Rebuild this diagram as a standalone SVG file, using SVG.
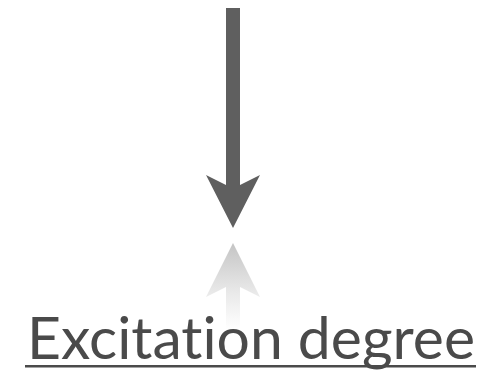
<svg xmlns="http://www.w3.org/2000/svg" width="485" height="378" viewBox="0 0 485 378">
<defs>
<style>
.lbl{font-family:"Lato","Open Sans","DejaVu Sans",sans-serif;font-size:59px;fill:#4a4a4a;font-variant-ligatures:none;font-feature-settings:"liga" 0}
</style>
<linearGradient id="refl" x1="0" y1="243" x2="0" y2="330" gradientUnits="userSpaceOnUse">
<stop offset="0" stop-color="#c4c4c4"/>
<stop offset="0.55" stop-color="#e8e8e8"/>
<stop offset="1" stop-color="#ffffff"/>
</linearGradient>
</defs>
<rect width="485" height="378" fill="#ffffff"/>
<g id="connectors">
<path id="arrow" d="M226,8 L240,8 L240,185 L260,175 L233,228 L206,175 L226,185 Z" fill="#5f5f5f"/>
<path id="arrow-reflection" d="M226,330 L240,330 L240,287 L260,297 L233,243 L206,297 L226,287 Z" fill="url(#refl)"/>
</g>
<g id="label">
<text class="lbl" x="27" y="359" textLength="448" lengthAdjust="spacingAndGlyphs">Excitation degree</text>
<rect x="25" y="365" width="451" height="2.5" fill="#4a4a4a"/>
</g>
</svg>
